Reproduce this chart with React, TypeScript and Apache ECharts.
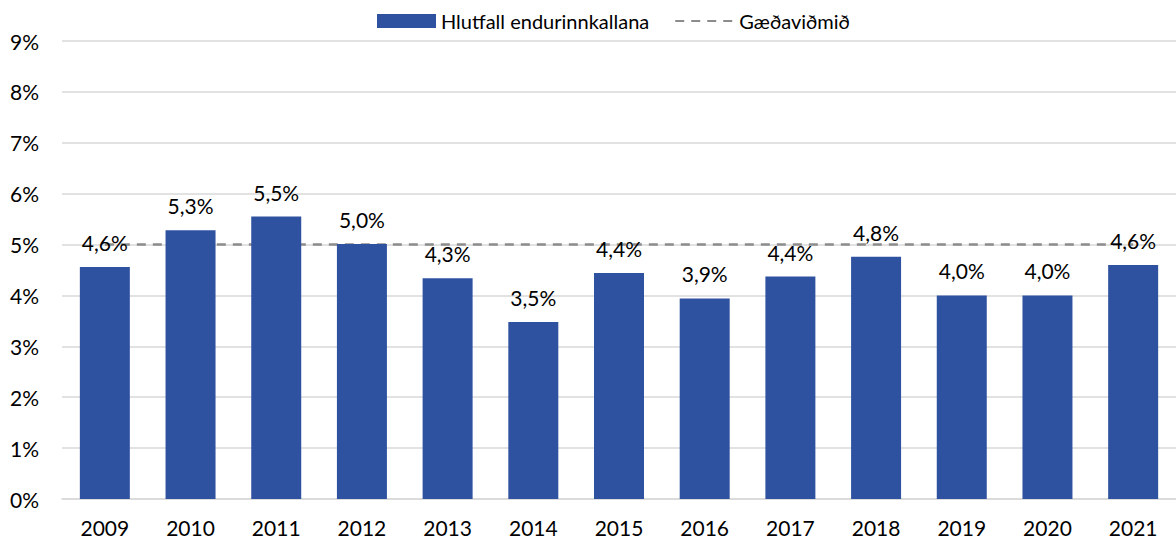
import React, { useEffect, useRef } from "react";
import * as echarts from "echarts";

const categories = ["2009", "2010", "2011", "2012", "2013", "2014", "2015", "2016", "2017", "2018", "2019", "2020", "2021"];
const recallShare = [4.56, 5.28, 5.55, 5.01, 4.34, 3.48, 4.44, 3.94, 4.37, 4.76, 4.0, 4.0, 4.6];
const qualityTarget = [5, 5, 5, 5, 5, 5, 5, 5, 5, 5, 5, 5, 5];
const barName = "Hlutfall endurinnkallana";
const lineName = "Gæðaviðmið";

const FONT = "Lato";

export default function App() {
  const ref = useRef<HTMLDivElement>(null);
  useEffect(() => {
    if (!ref.current) return;
    const chart = echarts.init(ref.current, undefined, { renderer: "svg" });
    chart.setOption({
      animation: false,
      textStyle: { fontFamily: FONT },
      legend: {
        top: 6,
        left: 372,
        itemGap: 25,
        itemWidth: 59,
        itemHeight: 14,
        textStyle: { fontFamily: FONT, fontSize: 20, color: "#000" },
        data: [
          { name: barName, icon: "rect" },
          { name: lineName, itemStyle: { opacity: 0 } },
        ],
      },
      grid: { left: 62, right: -6, top: 41, bottom: 41, containLabel: false },
      xAxis: {
        type: "category",
        data: categories,
        axisLine: { show: true, lineStyle: { color: "#d9d9d9", width: 1.5 } },
        axisTick: { show: false },
        axisLabel: { fontFamily: FONT, fontSize: 21, color: "#000", margin: 18 },
      },
      yAxis: {
        type: "value",
        min: 0,
        max: 9,
        interval: 1,
        axisLine: { show: false },
        axisTick: { show: false },
        axisLabel: {
          fontFamily: FONT,
          fontSize: 21,
          color: "#000",
          margin: 23,
          formatter: (v: number) => `${v}%`,
        },
        splitLine: { lineStyle: { color: "#d9d9d9", width: 1.5 } },
      },
      series: [
        {
          name: barName,
          type: "bar",
          data: recallShare,
          barWidth: 50,
          z: 3,
          itemStyle: { color: "#2f52a0" },
          label: {
            show: true,
            position: "top",
            distance: 14,
            fontFamily: FONT,
            fontSize: 21,
            color: "#000",
            formatter: (p: any) => `${p.value.toFixed(1).replace(".", ",")}%`,
          },
        },
        {
          name: lineName,
          type: "line",
          data: qualityTarget,
          z: 2,
          symbol: "none",
          lineStyle: { color: "#8c8c8c", width: 2.5, type: [9, 7] },
          itemStyle: { color: "#8c8c8c" },
        },
      ],
    });
    return () => chart.dispose();
  }, []);
  return (
    <div
      ref={ref}
      style={{ position: "absolute", left: 0, top: 0, width: 1176, height: 540 }}
    />
  );
}
